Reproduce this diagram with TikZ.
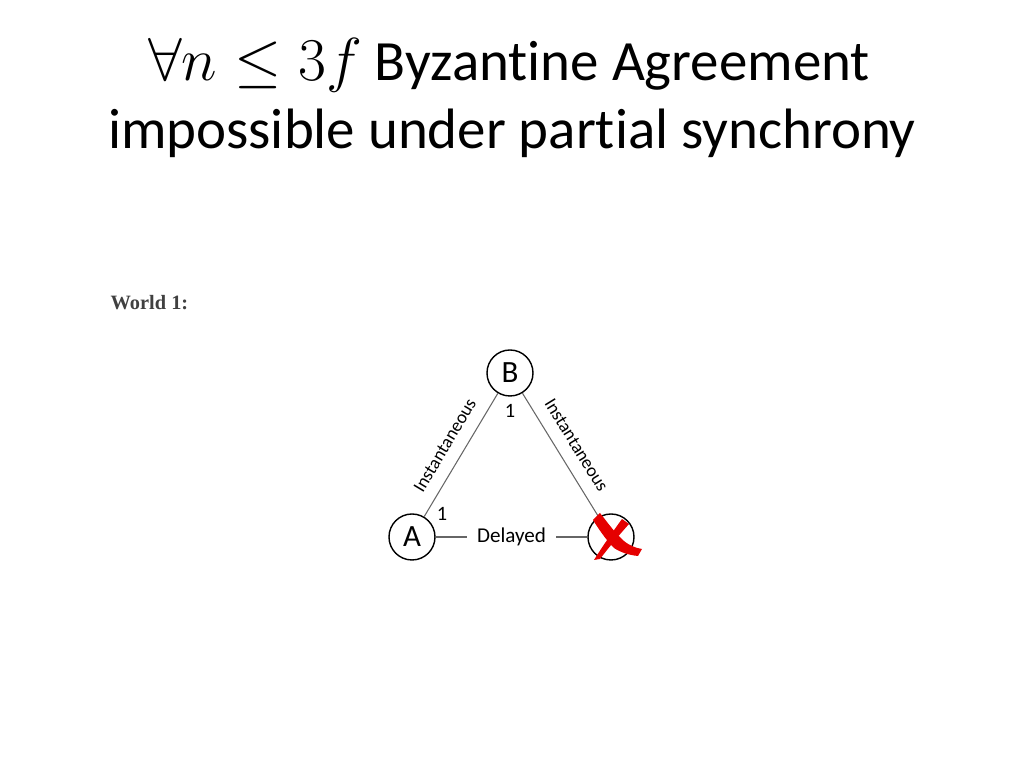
\documentclass[tikz,border=0pt]{standalone}
\usepackage{amsmath}
\usepackage{amssymb}
\usepackage{fontspec}
\setmainfont[Ligatures=NoCommon]{Carlito}
\newfontfamily\worldfont{Liberation Serif}
\usetikzlibrary{positioning}
\tikzstyle{proc} = [draw, circle, minimum size=0.46cm, inner sep=0pt, line width=0.4pt, font=\fontsize{8.8pt}{10pt}\selectfont]
\tikzstyle{lbl} = [font=\fontsize{5.2pt}{6pt}\selectfont, inner sep=1pt]
\tikzstyle{link} = [draw, line width=0.3pt, black!60]
\newcommand{\titlefont}{\fontsize{16.2pt}{19pt}\selectfont}

\begin{document}
\begin{tikzpicture}
  \useasboundingbox (0,0) rectangle (10.24,7.68);
  % title
  \node (t1) at (5.09,7.03) {\titlefont $\forall n \leq 3f$ Byzantine Agreement};
  \node (t2) at (5.12,6.35) {\titlefont impossible under partial synchrony};
  \node [anchor=west, text=black!75, inner sep=0pt] (world) at (1.10,4.65)
    {\worldfont\bfseries\fontsize{5.8pt}{7pt}\selectfont World 1:};
  % processes
  \node [proc] (A) at (4.12,2.31) {A};
  \node [proc] (B) at (5.10,3.95) {B};
  \node [proc] (C) at (6.11,2.31) {};
  \node [lbl, font=\fontsize{5.8pt}{7pt}\selectfont, below=0.03cm of B] (b1) {1};
  \node [lbl, font=\fontsize{5.8pt}{7pt}\selectfont, above right=-0.04cm and 0.04cm of A] (a1) {1};
  % links
  \path [link] (A) -- node [lbl, text=black, fill=white, inner sep=3pt, font=\fontsize{6pt}{7pt}\selectfont] (del) {Delayed} (C);
  \path [link] (A) -- node [lbl, text=black, sloped, above=2.5pt] (inl) {Instantaneous} (B);
  \path [link] (B) -- node [lbl, text=black, sloped, above=2.5pt] (inr) {Instantaneous} (C);
  % red cross over C
  \fill [red!90!black] (6.00,2.55) .. controls (6.08,2.45) and (6.14,2.36) .. (6.24,2.27)
    .. controls (6.30,2.22) and (6.36,2.20) .. (6.42,2.19)
    -- (6.38,2.12) .. controls (6.28,2.13) and (6.20,2.16) .. (6.14,2.20)
    .. controls (6.06,2.28) and (5.98,2.40) .. (5.93,2.48) -- cycle;
  \fill [red!90!black] (6.22,2.49) .. controls (6.14,2.38) and (6.04,2.24) .. (5.94,2.08)
    -- (6.00,2.09) .. controls (6.10,2.22) and (6.20,2.34) .. (6.29,2.44) -- cycle;
\end{tikzpicture}
\end{document}
